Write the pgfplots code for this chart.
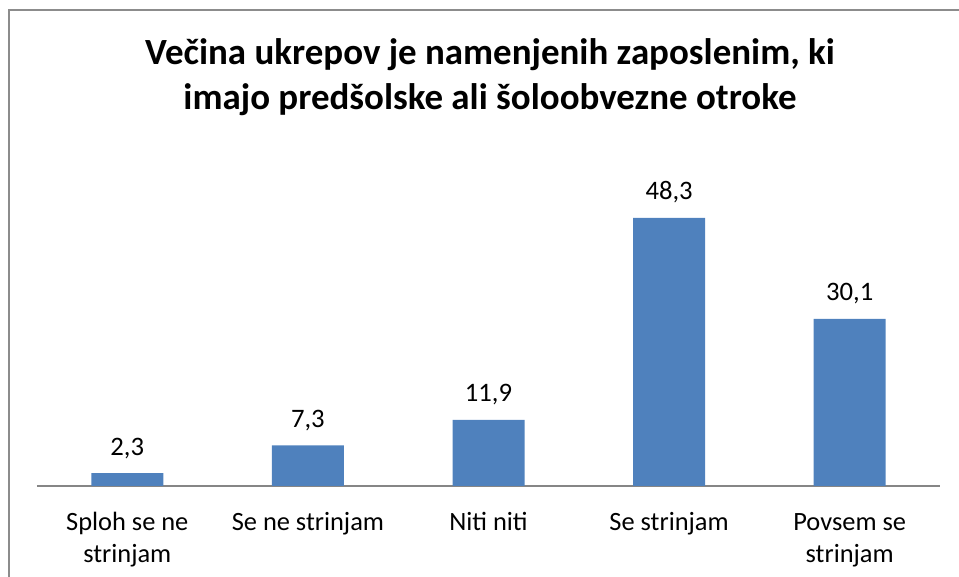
\documentclass[border=0pt]{standalone}
\usepackage{fontspec}
\setmainfont{Carlito}
\usepackage{pgfplots}
\pgfplotsset{compat=1.18}
\definecolor{barBlue}{HTML}{4F81BD}
\definecolor{frameGray}{HTML}{8C8C8C}
\definecolor{axisGray}{HTML}{868686}
\newcommand\ts{\rule{0pt}{14pt}}

\begin{document}
\begin{tikzpicture}
% outer chart frame (left and top edges visible)
\draw[frameGray, line width=1.5pt] (6.75pt,-5pt) -- (6.75pt,425.25pt) -- (730pt,425.25pt);

\node[anchor=base, font=\fontsize{27.7}{33}\selectfont\bfseries] at (367.5pt,384pt)
  {Večina ukrepov je namenjenih zaposlenim, ki};
\node[anchor=base, font=\fontsize{27.7}{33}\selectfont\bfseries] at (367.5pt,350.25pt)
  {imajo predšolske ali šoloobvezne otroke};

\begin{axis}[
    at={(27.75pt,68.25pt)}, anchor=south west,
    scale only axis,
    width=677.25pt, height=249.7pt,
    xmin=-0.5, xmax=4.5,
    ymin=0, ymax=60,
    axis x line*=bottom,
    axis y line=none,
    x axis line style={axisGray, line width=1.5pt},
    xtick={0,1,2,3,4},
    xticklabels={{\ts Sploh se ne\\strinjam},{\ts Se ne strinjam},{\ts Niti niti},{\ts Se strinjam},{\ts Povsem se\\strinjam}},
    xtick style={draw=none},
    xticklabel style={font=\fontsize{19.8}{24.2}\selectfont, align=center,
        anchor=north, inner sep=0pt, yshift=-19pt},
    clip=false,
]
\addplot[ybar, bar width=54pt, fill=barBlue, draw=none,
    nodes near coords={\pgfmathprintnumber[fixed,fixed zerofill,precision=1,use comma,assume math mode=true]{\pgfplotspointmeta}},
    every node near coord/.append style={font=\fontsize{20}{24}\selectfont, anchor=base, inner sep=0pt, yshift=13.5pt, text=black},
] coordinates {
  (0,2.3) (1,7.3) (2,11.9) (3,48.3) (4,30.1)
};
\end{axis}

\pgfresetboundingbox
\path[use as bounding box] (0,0) rectangle (719.25pt,432.75pt);
\end{tikzpicture}
\end{document}
